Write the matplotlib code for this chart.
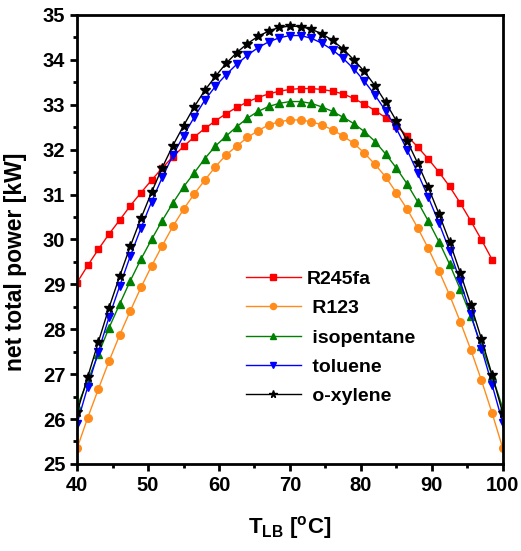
import matplotlib
matplotlib.use('Agg')
import matplotlib.pyplot as plt
from matplotlib.ticker import MultipleLocator

plt.rcParams['font.family'] = ['Liberation Sans', 'DejaVu Sans']
plt.rcParams['mathtext.fontset'] = 'custom'
plt.rcParams['mathtext.rm'] = 'Liberation Sans'
plt.rcParams['mathtext.bf'] = 'Liberation Sans:bold'

# temperature of the low boundary, step 1.5 C
t_lb = [40, 41.5, 43, 44.5, 46, 47.5, 49, 50.5, 52, 53.5, 55, 56.5, 58, 59.5,
        61, 62.5, 64, 65.5, 67, 68.5, 70, 71.5, 73, 74.5, 76, 77.5, 79, 80.5,
        82, 83.5, 85, 86.5, 88, 89.5, 91, 92.5, 94, 95.5, 97, 98.5, 100]

r245fa = [29.04, 29.42, 29.78, 30.12, 30.43, 30.75, 31.04, 31.32, 31.59, 31.84,
          32.07, 32.28, 32.47, 32.64, 32.80, 32.94, 33.06, 33.16, 33.24, 33.30,
          33.34, 33.36, 33.36, 33.34, 33.30, 33.24, 33.14, 33.01, 32.87, 32.71,
          32.53, 32.31, 32.06, 31.79, 31.50, 31.18, 30.81, 30.41, 29.99, 29.55]
r123 = [25.35, 26.03, 26.67, 27.29, 27.87, 28.41, 28.93, 29.41, 29.86, 30.29,
        30.67, 31.01, 31.32, 31.62, 31.88, 32.08, 32.27, 32.42, 32.55, 32.62,
        32.66, 32.66, 32.62, 32.55, 32.44, 32.30, 32.14, 31.92, 31.67, 31.39,
        31.04, 30.68, 30.26, 29.80, 29.30, 28.76, 28.17, 27.54, 26.86, 26.13, 25.35]
isopentane = [26.28, 26.85, 27.45, 28.03, 28.56, 29.08, 29.56, 30.00, 30.42, 30.81,
              31.17, 31.48, 31.80, 32.08, 32.30, 32.51, 32.70, 32.85, 32.96, 33.03,
              33.07, 33.07, 33.03, 32.95, 32.85, 32.72, 32.58, 32.40, 32.18, 31.90,
              31.59, 31.24, 30.84, 30.41, 29.95, 29.45, 28.89, 28.29, 27.63, 26.96, 26.24]
toluene = [25.90, 26.72, 27.50, 28.27, 28.96, 29.63, 30.25, 30.84, 31.38, 31.87,
           32.31, 32.72, 33.10, 33.41, 33.67, 33.90, 34.10, 34.27, 34.40, 34.49,
           34.54, 34.54, 34.48, 34.37, 34.22, 34.03, 33.80, 33.52, 33.21, 32.86,
           32.47, 32.00, 31.48, 30.94, 30.37, 29.75, 29.07, 28.33, 27.57, 26.76, 25.91]
oxylene = [26.15, 26.94, 27.72, 28.48, 29.18, 29.85, 30.47, 31.05, 31.60, 32.09,
           32.53, 32.95, 33.32, 33.63, 33.92, 34.16, 34.36, 34.52, 34.64, 34.72,
           34.75, 34.74, 34.68, 34.58, 34.43, 34.24, 34.00, 33.74, 33.42, 33.05,
           32.64, 32.20, 31.70, 31.16, 30.57, 29.95, 29.26, 28.54, 27.78, 26.98, 26.13]

fig = plt.figure(figsize=(5.21, 5.51), dpi=100)
ax = fig.add_axes([0.148, 0.158, 0.817, 0.815])

ax.plot(t_lb[:len(r245fa)], r245fa, color='#ff0000', marker='s', ms=5, lw=1, label='R245fa')
ax.plot(t_lb, r123, color='#ff8c1a', marker='o', ms=5.5, lw=1, label=' R123')
ax.plot(t_lb, isopentane, color='#008000', marker='^', ms=6, lw=1, label=' isopentane')
ax.plot(t_lb, toluene, color='#0000ff', marker='v', ms=6, lw=1, label=' toluene')
ax.plot(t_lb, oxylene, color='black', marker='*', ms=7, lw=1, label=' o-xylene')

ax.set_xlim(40, 100)
ax.set_ylim(25, 35)
ax.xaxis.set_major_locator(MultipleLocator(10))
ax.xaxis.set_minor_locator(MultipleLocator(5))
ax.yaxis.set_major_locator(MultipleLocator(1))
ax.yaxis.set_minor_locator(MultipleLocator(0.5))
ax.tick_params(which='major', direction='out', length=5, width=2, labelsize=14.5)
ax.tick_params(which='minor', direction='out', length=3, width=2)
for s in ax.spines.values():
    s.set_linewidth(2)
for lab in ax.get_xticklabels() + ax.get_yticklabels():
    lab.set_fontweight('bold')

ax.set_xlabel(r'$\mathbf{T_{LB}}$ $\mathbf{[^{o}C]}$', fontsize=16, labelpad=14)
ax.set_ylabel('net total power [kW]', fontsize=16.5, fontweight='bold')
ax.yaxis.set_label_coords(-0.118, 0.45)

leg = ax.legend(loc='upper left', bbox_to_anchor=(0.355, 0.47), frameon=False,
                handlelength=2.85, markerscale=0.8, labelspacing=0.6, handletextpad=0.3,
                prop={'weight': 'bold', 'size': 14})

fig.savefig('out.png', dpi=100)
